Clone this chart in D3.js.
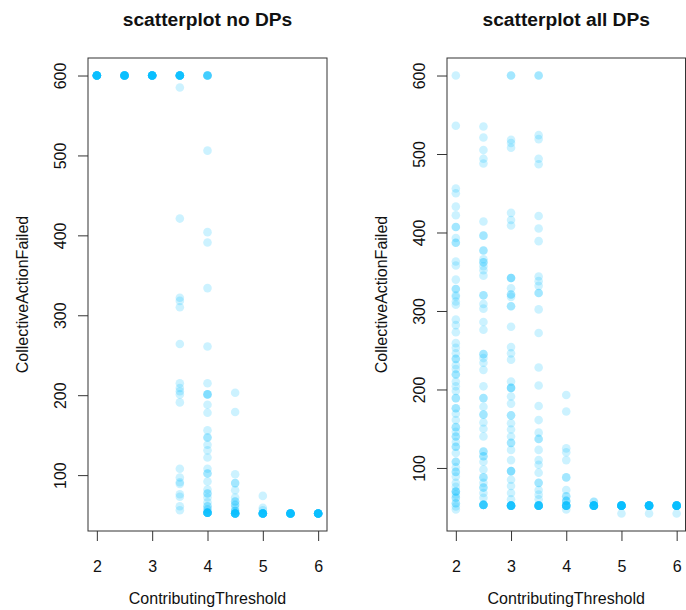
<!DOCTYPE html>
<html>
<head>
<meta charset="utf-8">
<script src="https://cdn.jsdelivr.net/npm/d3@7"></script>
<style>
  html, body { margin: 0; padding: 0; background: #fff; }
  svg text { font-family: "Liberation Sans", Arial, Helvetica, sans-serif; fill: #111; }
</style>
</head>
<body>
<svg id="chart" width="686" height="610"></svg>
<script>
// thresholds on the x axis (one column of points each)
const thresholds = [2, 2.5, 3, 3.5, 4, 4.5, 5, 5.5, 6];

// CollectiveActionFailed, per threshold - left panel (no DPs)
const noDPs = [
  [600, 600, 600, 600, 600, 600, 600, 600, 600, 600, 600, 600, 600, 600],
  [600, 600, 600, 600, 600, 600, 600, 600, 600, 600, 600, 600, 600, 600],
  [600, 600, 600, 600, 600, 600, 600, 600, 600, 600, 600, 600, 600, 600],
  [600, 600, 600, 600, 600, 600, 600, 600, 600, 600, 600, 600, 585, 421, 322, 318, 310, 264,
   215, 209, 205, 201, 191, 108, 97, 91, 89, 76, 73, 61, 56],
  [600, 600, 600, 600, 600, 600, 506, 404, 391, 334, 261, 215, 201, 201, 201, 188, 178, 156,
   147, 147, 138, 131, 122, 108, 102, 102, 92, 82, 77, 77, 72, 66, 61, 61, 57, 57,
   53, 53, 53, 53, 53, 53, 53, 53, 53, 53],
  [203, 179, 101, 90, 90, 81, 72, 67, 67, 63, 63, 59, 55, 55, 55,
   52, 52, 52, 52, 52, 52, 52, 52, 52, 52],
  [74, 59, 56, 52, 52, 52, 52, 52, 52, 52, 52, 52, 52, 52, 52],
  [52, 52, 52, 52, 52, 52, 52, 52, 52, 52, 52, 52, 52, 52],
  [52, 52, 52, 52, 52, 52, 52, 52, 52, 52, 52, 52, 52, 52]
];

// right panel (all DPs)
const allDPs = [
  [600, 536, 456, 450, 433, 422, 407, 407, 393, 387, 387, 363, 358, 340, 328, 328, 320, 318,
   312, 308, 289, 282, 273, 259, 253, 246, 239, 239, 231, 226, 219, 219, 210, 204, 198, 189,
   189, 176, 176, 169, 161, 152, 152, 146, 140, 140, 133, 127, 127, 119, 108, 108, 101, 95,
   95, 89, 81, 76, 70, 70, 70, 66, 62, 62, 55, 55, 51, 47],
  [535, 521, 505, 494, 488, 414, 396, 396, 377, 377, 366, 362, 362, 357, 352, 345, 320, 320,
   309, 303, 286, 276, 245, 245, 240, 234, 225, 204, 189, 189, 178, 168, 168, 158, 150, 140,
   121, 121, 115, 115, 108, 98, 88, 88, 81, 75, 75, 68, 62, 53, 53, 53, 53, 53, 53, 53],
  [600, 600, 518, 514, 508, 425, 416, 409, 342, 342, 342, 329, 321, 321, 318, 306, 306, 280,
   254, 246, 238, 210, 202, 202, 202, 191, 182, 167, 167, 157, 149, 140, 132, 132, 123, 110,
   96, 96, 96, 85, 77, 68, 60, 52, 52, 52, 52, 52, 52, 52, 52, 52, 52],
  [600, 600, 524, 519, 494, 487, 421, 405, 389, 344, 338, 332, 323, 323, 302, 272, 228, 205,
   179, 161, 145, 137, 137, 123, 110, 104, 94, 81, 81, 72, 66, 60,
   52, 52, 52, 52, 52, 52, 52, 52, 52, 52],
  [193, 172, 125, 120, 110, 88, 88, 72, 64, 64, 58, 58, 58, 52, 52, 52, 52, 52, 52, 52, 52, 47],
  [57, 57, 52, 52, 52, 52, 52, 52, 52, 52, 52, 52, 52, 52],
  [52, 52, 52, 52, 52, 52, 52, 52, 52, 52, 52, 52, 52, 52, 42],
  [52, 52, 52, 52, 52, 52, 52, 52, 52, 52, 52, 52, 52, 52, 42],
  [52, 52, 52, 52, 52, 52, 52, 52, 52, 52, 52, 52, 52, 52, 42]
];

const titles = ['scatterplot no DPs', 'scatterplot all DPs'];
const xTicks = [2, 3, 4, 5, 6];
const yTicks = [100, 200, 300, 400, 500, 600];
const xLabel = 'ContributingThreshold';
const yLabel = 'CollectiveActionFailed';

const svg = d3.select('#chart');

// panel boxes (plot region in px)
const panels = [
  { data: noDPs, title: titles[0], left: 88, right: 327 },
  { data: allDPs, title: titles[1], left: 447, right: 685.5 }
];
const plotTop = 58, plotBottom = 531;

// R style axis range: data extent padded by 4%
function pad(ext) {
  const d = (ext[1] - ext[0]) * 0.04;
  return [ext[0] - d, ext[1] + d];
}

panels.forEach(p => {
  const pts = [];
  p.data.forEach((vals, i) => vals.forEach(v => pts.push({ x: thresholds[i], y: v })));

  const x = d3.scaleLinear().domain(pad(d3.extent(thresholds))).range([p.left, p.right]);
  const y = d3.scaleLinear().domain(pad(d3.extent(pts, d => d.y))).range([plotBottom, plotTop]);

  const g = svg.append('g');

  // points
  g.append('g').selectAll('circle')
    .data(pts)
    .enter()
    .append('circle')
    .attr('cx', d => x(d.x))
    .attr('cy', d => y(d.y))
    .attr('r', 4.3)
    .attr('fill', '#00BFFF')
    .attr('fill-opacity', 0.2);

  // frame
  g.append('rect')
    .attr('x', p.left).attr('y', plotTop)
    .attr('width', p.right - p.left).attr('height', plotBottom - plotTop)
    .attr('fill', 'none').attr('stroke', '#333').attr('stroke-width', 1);

  // x axis
  const xa = g.append('g')
    .attr('transform', `translate(0,${plotBottom})`)
    .call(d3.axisBottom(x).tickValues(xTicks).tickFormat(d3.format('d'))
      .tickSize(10).tickPadding(20));
  xa.select('.domain').remove();
  xa.selectAll('line').attr('stroke', '#333');
  xa.selectAll('text').attr('font-size', 16).attr('fill', '#111')
    .attr('font-family', '"Liberation Sans", Arial, sans-serif');

  // y axis, labels parallel to axis like R
  const ya = g.append('g')
    .attr('transform', `translate(${p.left},0)`)
    .call(d3.axisLeft(y).tickValues(yTicks).tickSize(10));
  ya.select('.domain').remove();
  ya.selectAll('line').attr('stroke', '#333');
  ya.selectAll('text')
    .attr('font-size', 16).attr('fill', '#111')
    .attr('font-family', '"Liberation Sans", Arial, sans-serif')
    .attr('x', null).attr('dy', null)
    .attr('text-anchor', 'middle')
    .attr('transform', 'translate(-22,0) rotate(-90)');

  // titles
  g.append('text')
    .attr('x', (p.left + p.right) / 2).attr('y', 26)
    .attr('text-anchor', 'middle')
    .attr('font-size', 19.2).attr('font-weight', 'bold')
    .text(p.title);

  g.append('text')
    .attr('x', (p.left + p.right) / 2).attr('y', 604)
    .attr('text-anchor', 'middle')
    .attr('font-size', 16)
    .text(xLabel);

  g.append('text')
    .attr('transform', `translate(${p.left - 60},${(plotTop + plotBottom) / 2}) rotate(-90)`)
    .attr('text-anchor', 'middle')
    .attr('font-size', 16)
    .text(yLabel);
});
</script>
</body>
</html>
